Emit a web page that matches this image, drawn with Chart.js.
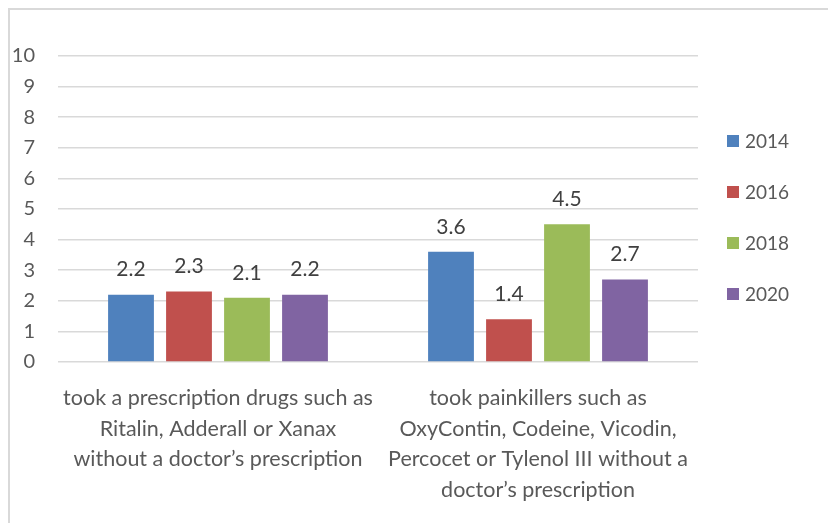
<!DOCTYPE html>
<html>
<head>
<meta charset="utf-8">
<script src="https://cdn.jsdelivr.net/npm/chart.js@4/dist/chart.umd.min.js"></script>
<style>
  html, body { margin: 0; padding: 0; background: #fff; }
  #wrap { position: relative; width: 828px; height: 523px; overflow: hidden; }
  #frame { position: absolute; left: 8px; top: 8px; width: 900px; height: 600px; border-left: 2px solid #d9d9d9; border-top: 2px solid #d9d9d9; box-sizing: border-box; }
  canvas { position: absolute; left: 0; top: 0; }
</style>
</head>
<body>
<div id="wrap">
  <div id="frame"></div>
  <canvas id="c" width="828" height="523"></canvas>
</div>
<script>
const categories = [
  ["took a prescription drugs such as", "Ritalin, Adderall or Xanax", "without a doctor\u2019s prescription"],
  ["took painkillers such as", "OxyContin, Codeine, Vicodin,", "Percocet or Tylenol III without a", "doctor\u2019s prescription"]
];
const seriesNames = ["2014", "2016", "2018", "2020"];
const values2014 = [2.2, 3.6];
const values2016 = [2.3, 1.4];
const values2018 = [2.1, 4.5];
const values2020 = [2.2, 2.7];
const seriesColors = ["#4F81BD", "#C0504D", "#9BBB59", "#8064A2"];
const yTicks = [0, 1, 2, 3, 4, 5, 6, 7, 8, 9, 10];

const allValues = [values2014, values2016, values2018, values2020];
const FONT = "Lato, 'Open Sans', sans-serif";

const dataLabels = {
  id: 'dataLabels',
  afterDatasetsDraw(chart) {
    const ctx = chart.ctx;
    ctx.save();
    ctx.font = "21px " + FONT;
    ctx.fillStyle = "#404040";
    ctx.textAlign = "center";
    ctx.textBaseline = "middle";
    chart.data.datasets.forEach((ds, i) => {
      chart.getDatasetMeta(i).data.forEach((bar, j) => {
        ctx.fillText(ds.data[j].toFixed(1), bar.x, bar.y - 25);
      });
    });
    ctx.restore();
  }
};

const sideLegend = {
  id: 'sideLegend',
  afterDraw(chart) {
    const ctx = chart.ctx;
    const x0 = chart.chartArea.right + 29;
    ctx.save();
    ctx.font = "19px " + FONT;
    ctx.textAlign = "left";
    ctx.textBaseline = "middle";
    chart.data.datasets.forEach((ds, i) => {
      const cy = 141 + 51 * i;
      ctx.fillStyle = ds.backgroundColor;
      ctx.fillRect(x0, cy - 6, 12, 12);
      ctx.fillStyle = "#595959";
      ctx.fillText(ds.label, x0 + 18, cy + 1);
    });
    ctx.restore();
  }
};

new Chart(document.getElementById('c'), {
  type: 'bar',
  data: {
    labels: categories,
    datasets: seriesNames.map((name, i) => ({
      label: name,
      data: allValues[i],
      backgroundColor: seriesColors[i],
      categoryPercentage: 0.725,
      barPercentage: 0.79
    }))
  },
  options: {
    responsive: false,
    animation: false,
    devicePixelRatio: 1,
    layout: { padding: { left: 0, top: 56, right: 130, bottom: 0 } },
    plugins: { legend: { display: false }, tooltip: { enabled: false } },
    scales: {
      x: {
        grid: { display: false },
        border: { display: false },
        ticks: {
          color: "#595959",
          font: { family: FONT, size: 21.5, lineHeight: 1.42 },
          padding: 13,
          maxRotation: 0,
          autoSkip: false
        },
        afterFit(scale) { scale.height = 161; }
      },
      y: {
        min: 0,
        max: 10,
        afterBuildTicks(scale) { scale.ticks = yTicks.map(v => ({ value: v })); },
        grid: { color: "#d9d9d9", lineWidth: 1.5, drawTicks: false },
        border: { display: false },
        ticks: {
          color: "#595959",
          font: { family: FONT, size: 20 },
          padding: 23
        },
        afterFit(scale) { scale.width = 58; }
      }
    }
  },
  plugins: [dataLabels, sideLegend]
});
</script>
</body>
</html>
